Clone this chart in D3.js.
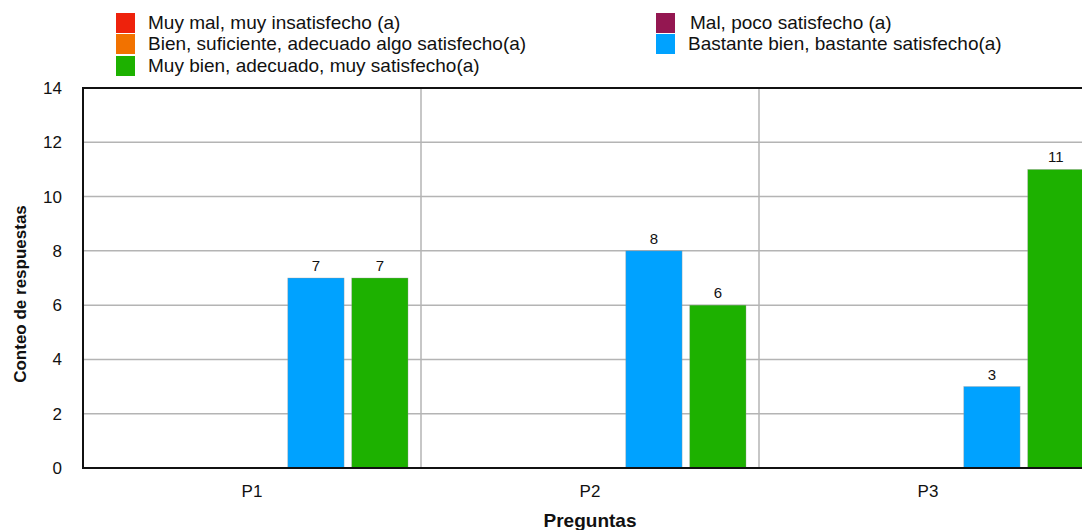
<!DOCTYPE html>
<html>
<head>
<meta charset="utf-8">
<script src="https://cdn.jsdelivr.net/npm/d3@7"></script>
<style>
html,body{margin:0;padding:0;background:#fff;}
svg{display:block;font-family:"Liberation Sans",Arial,Helvetica,sans-serif;}
</style>
</head>
<body>
<svg id="chart" width="1082" height="530"></svg>
<script>
const categories = ["P1", "P2", "P3"];
const seriesNames = [
  "Muy mal, muy insatisfecho (a)",
  "Mal, poco satisfecho (a)",
  "Bien, suficiente, adecuado algo satisfecho(a)",
  "Bastante bien, bastante satisfecho(a)",
  "Muy bien, adecuado, muy satisfecho(a)"
];
const seriesColors = ["#EE220C", "#941751", "#F27200", "#00A2FF", "#1DB100"];
const muyMal = [0, 0, 0];
const mal = [0, 0, 0];
const bien = [0, 0, 0];
const bastanteBien = [7, 8, 3];
const muyBien = [7, 6, 11];
const seriesValues = [muyMal, mal, bien, bastanteBien, muyBien];
const yTicks = [0, 2, 4, 6, 8, 10, 12, 14];

const svg = d3.select("#chart");
const plot = {left: 83, top: 88, bottom: 468, right: 1097};

const y = d3.scaleLinear().domain([0, 14]).range([plot.bottom, plot.top]);
const x = d3.scaleBand().domain(categories).range([plot.left, plot.right]).padding(0);
const xi = d3.scaleBand().domain(d3.range(seriesNames.length))
  .range([13, x.bandwidth() - 13]).paddingInner(0.12).paddingOuter(0);

// horizontal grid
svg.append("g").selectAll("line").data(yTicks.filter(t => t > 0 && t < 14)).join("line")
  .attr("x1", plot.left).attr("x2", plot.right)
  .attr("y1", d => y(d)).attr("y2", d => y(d))
  .attr("stroke", "#b4b4b4").attr("stroke-width", 1.5);
// vertical grid at category boundaries
svg.append("g").selectAll("line").data(categories.slice(1)).join("line")
  .attr("x1", d => x(d)).attr("x2", d => x(d))
  .attr("y1", plot.top).attr("y2", plot.bottom)
  .attr("stroke", "#b4b4b4").attr("stroke-width", 1.5);

// bars
const barData = [];
seriesValues.forEach((vals, s) => vals.forEach((v, i) => barData.push({s, cat: categories[i], v})));
const nonZero = barData.filter(d => d.v > 0);
svg.append("g").selectAll("rect").data(nonZero).join("rect")
  .attr("x", d => x(d.cat) + xi(d.s))
  .attr("y", d => y(d.v))
  .attr("width", xi.bandwidth())
  .attr("height", d => y(0) - y(d.v))
  .attr("fill", d => seriesColors[d.s])
  .attr("stroke", "#9a9a9a").attr("stroke-width", 0.6).attr("stroke-opacity", 0.6);

svg.append("g").selectAll("text").data(nonZero).join("text")
  .attr("x", d => x(d.cat) + xi(d.s) + xi.bandwidth() / 2)
  .attr("y", d => y(d.v) - 7)
  .attr("text-anchor", "middle")
  .attr("font-size", 15).attr("fill", "#111")
  .text(d => d.v);

// plot border (left, top, bottom)
svg.append("path")
  .attr("d", `M${plot.right},${plot.top}H${plot.left}V${plot.bottom}H${plot.right}`)
  .attr("fill", "none").attr("stroke", "#111").attr("stroke-width", 2);

// y axis
const yAxis = d3.axisLeft(y).tickValues(yTicks).tickSize(0).tickPadding(21);
const yg = svg.append("g").attr("transform", `translate(${plot.left},0)`).call(yAxis);
yg.select(".domain").remove();
yg.selectAll("text").attr("font-size", 17).attr("fill", "#111").attr("font-family", "Liberation Sans, Arial, sans-serif");

// x axis
const xAxis = d3.axisBottom(x).tickSize(0).tickPadding(17);
const xg = svg.append("g").attr("transform", `translate(0,${plot.bottom})`).call(xAxis);
xg.select(".domain").remove();
xg.selectAll("text").attr("font-size", 17).attr("fill", "#111").attr("font-family", "Liberation Sans, Arial, sans-serif");

// axis titles
svg.append("text")
  .attr("transform", `translate(26,294) rotate(-90)`)
  .attr("text-anchor", "middle").attr("font-size", 17).attr("font-weight", "bold").attr("fill", "#111")
  .text("Conteo de respuestas");
svg.append("text")
  .attr("x", (plot.left + plot.right) / 2).attr("y", 527)
  .attr("text-anchor", "middle").attr("font-size", 19).attr("font-weight", "bold").attr("fill", "#111")
  .text("Preguntas");

// legend
const legendPos = [
  {x: 116, y: 13}, {x: 656, y: 13},
  {x: 116, y: 34}, {x: 656, y: 34},
  {x: 116, y: 56}
];
const lg = svg.append("g").selectAll("g").data(seriesNames).join("g")
  .attr("transform", (d, i) => `translate(${legendPos[i].x},${legendPos[i].y})`);
lg.append("rect").attr("width", 19).attr("height", 20)
  .attr("fill", (d, i) => seriesColors[i]);
lg.append("text").attr("x", (d, i) => i === 1 ? 34 : 32).attr("y", 16)
  .attr("font-size", 19).attr("fill", "#111").text(d => d);
</script>
</body>
</html>
